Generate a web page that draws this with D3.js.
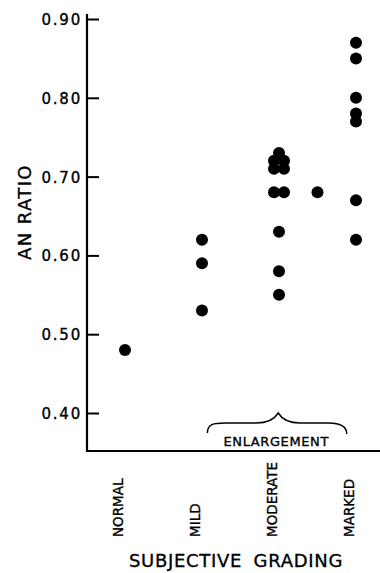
<!DOCTYPE html>
<meta charset="utf-8">
<style>
body { margin: 0; background: #fff; }
text { font-family: "DejaVu Sans", Verdana, sans-serif; fill: #000; stroke: #000; stroke-width: 0.35px; }
.axis path, .axis line { stroke: #000; stroke-width: 2px; }
.axis text { font-size: 15px; letter-spacing: 1.8px; }
.cat { font-size: 13.5px; }
.dot { fill: #000; }
</style>
<svg width="380" height="573"></svg>
<script src="https://d3js.org/d3.v7.min.js"></script>
<script>

// grades along the x axis
var categories = ["NORMAL", "MILD", "MODERATE", "MARKED"];
var yTicks = [0.40, 0.50, 0.60, 0.70, 0.80, 0.90];

// AN ratio per patient, by grade
var normalValues = [0.48];
var mildValues = [0.62, 0.59, 0.53];
var moderateValues = [0.73, 0.72, 0.72, 0.71, 0.71, 0.68, 0.68, 0.63, 0.58, 0.55];
var moderateMarkedValues = [0.68];
var markedValues = [0.87, 0.85, 0.80, 0.78, 0.77, 0.67, 0.62];

var svg = d3.select("svg");

var x = d3.scaleLinear().domain([0, 3]).range([125, 356]);
var y = d3.scaleLinear().domain([0.4, 0.9]).range([413, 19]);

var groups = [
  { pos: 0, values: normalValues },
  { pos: 1, values: mildValues },
  { pos: 2, values: moderateValues },
  { pos: 2.5, values: moderateMarkedValues },
  { pos: 3, values: markedValues }
];

// flatten; equal values in one group sit side by side
var points = [];
groups.forEach(function(g) {
  var counts = d3.rollup(g.values, function(v) { return v.length; }, function(d) { return d; });
  var seen = new Map();
  g.values.forEach(function(v) {
    var n = counts.get(v), i = seen.get(v) || 0;
    seen.set(v, i + 1);
    points.push({ pos: g.pos, value: v, shift: (i - (n - 1) / 2) * 10 });
  });
});

// axes
svg.append("line")
    .attr("x1", 87).attr("x2", 87)
    .attr("y1", 14).attr("y2", 452)
    .attr("stroke", "#000").attr("stroke-width", 2.2);

svg.append("line")
    .attr("x1", 86).attr("x2", 380)
    .attr("y1", 451).attr("y2", 451)
    .attr("stroke", "#000").attr("stroke-width", 2.2);

svg.append("g")
    .attr("class", "axis")
    .attr("transform", "translate(87,0)")
    .call(d3.axisLeft(y).tickValues(yTicks).tickFormat(d3.format(".2f")).tickSize(-12).tickPadding(5))
    .call(function(g) { g.select(".domain").remove(); })
    .selectAll("text").attr("dy", "0.36em");

svg.append("text")
    .attr("transform", "translate(31,212) rotate(-90)")
    .attr("text-anchor", "middle")
    .style("font-size", "18px")
    .style("letter-spacing", "1.4px")
    .text("AN RATIO");

// dots
svg.selectAll(".dot")
  .data(points)
  .enter().append("circle")
    .attr("class", "dot")
    .attr("cx", function(d) { return x(d.pos) + d.shift; })
    .attr("cy", function(d) { return y(d.value); })
    .attr("r", 6);

// category labels
svg.selectAll(".cat")
  .data(categories)
  .enter().append("text")
    .attr("class", "cat")
    .attr("transform", function(d, i) { return "translate(" + (x(i) - 2) + ",537) rotate(-90)"; })
    .text(function(d) { return d; });

// brace over moderate..marked
var bx0 = x(1.07), bx1 = x(2.88), bm = x(1.99);
svg.append("path")
    .attr("d", "M" + bx0 + ",433 C" + bx0 + ",424 " + (bx0 + 6) + ",423 " + (bx0 + 18) + ",423"
      + " L" + (bm - 22) + ",423 C" + (bm - 8) + ",423 " + (bm - 3) + ",418 " + bm + ",413"
      + " C" + (bm + 3) + ",418 " + (bm + 8) + ",423 " + (bm + 22) + ",423"
      + " L" + (bx1 - 18) + ",423 C" + (bx1 - 6) + ",423 " + bx1 + ",426 " + bx1 + ",434")
    .attr("fill", "none")
    .attr("stroke", "#000")
    .attr("stroke-width", 1.5);

svg.append("text")
    .attr("x", bm - 2)
    .attr("y", 446)
    .attr("text-anchor", "middle")
    .style("font-size", "13px")
    .style("letter-spacing", "0.6px")
    .text("ENLARGEMENT");

svg.append("text")
    .attr("x", 236)
    .attr("y", 567)
    .attr("text-anchor", "middle")
    .style("font-size", "18px")
    .style("letter-spacing", "0.7px")
    .style("word-spacing", "5px")
    .text("SUBJECTIVE GRADING");

</script>
